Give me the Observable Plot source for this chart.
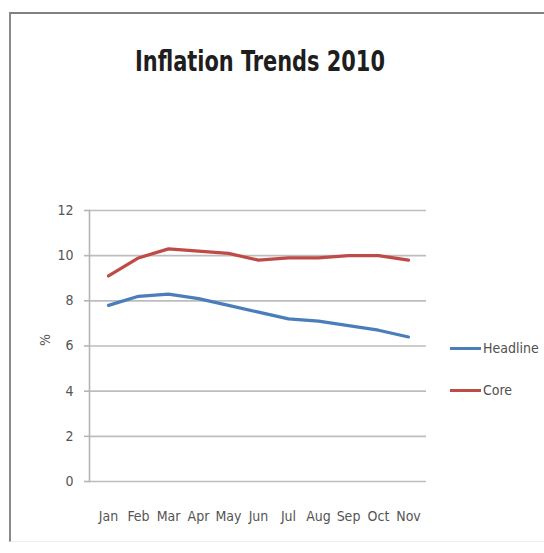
<!DOCTYPE html>
<html>
<head>
<meta charset="utf-8">
<script src="https://cdn.jsdelivr.net/npm/d3@7"></script>
<script src="https://cdn.jsdelivr.net/npm/@observablehq/plot@0.6"></script>
<style>
  html, body { margin: 0; padding: 0; background: #fff; }
  #wrap { position: relative; width: 544px; height: 553px; overflow: hidden;
          font-family: "Liberation Sans Narrow", "DejaVu Sans Condensed", "Liberation Sans", sans-serif; }
  #frame { position: absolute; left: 9px; top: 12px; width: 545px; height: 527px;
           border-top: 2px solid #808080; border-left: 2px solid #8a8a8a; border-bottom: 1px solid #eeeeee; }
  #title { position: absolute; left: 0; top: 44px; width: 520px; text-align: center;
           font-size: 28px; line-height: 36px; color: #1e1e1e; font-weight: bold;
           transform: scaleX(0.83); transform-origin: 260px 0; }
  #chart { position: absolute; left: 0; top: 0; }
  .leg { position: absolute; left: 450px; font-size: 14px; color: #505050; display: flex; align-items: center; }
  .sw { width: 31px; height: 3px; margin-right: 2px; }
</style>
</head>
<body>
<div id="wrap">
  <div id="frame"></div>
  <div id="title">Inflation Trends 2010</div>
  <div id="chart"></div>
  <div id="legend"></div>
</div>
<script>
const months = ["Jan","Feb","Mar","Apr","May","Jun","Jul","Aug","Sep","Oct","Nov"];
const headline = [7.8, 8.2, 8.3, 8.1, 7.8, 7.5, 7.2, 7.1, 6.9, 6.7, 6.4];
const core = [9.1, 9.9, 10.3, 10.2, 10.1, 9.8, 9.9, 9.9, 10.0, 10.0, 9.8];
const seriesNames = ["Headline", "Core"];
const seriesColors = ["#4a7ebb", "#be4b48"];
const yTicks = [0, 2, 4, 6, 8, 10, 12];

const data = [];
months.forEach((m, i) => {
  data.push({month: m, value: headline[i], series: "Headline"});
  data.push({month: m, value: core[i], series: "Core"});
});

const font = '"Liberation Sans Narrow", "DejaVu Sans Condensed", "Liberation Sans", sans-serif';

const chart = Plot.plot({
  width: 544,
  height: 553,
  marginLeft: 89,
  marginRight: 118,
  marginTop: 210,
  marginBottom: 72,
  style: {fontFamily: font, fontSize: "14px", color: "#555", background: "transparent", overflow: "visible"},
  x: {type: "point", domain: months, padding: 0.5, label: null},
  y: {domain: [0, 12], ticks: yTicks, label: null},
  color: {domain: seriesNames, range: seriesColors},
  marks: [
    Plot.gridY(yTicks, {stroke: "#bdbdbd", strokeOpacity: 1, strokeWidth: 1.6}),
    Plot.frame({anchor: "left", stroke: "#b5b5b5", strokeWidth: 1.6}),
    Plot.axisY(yTicks, {tickSize: 5, text: null, stroke: "#b5b5b5", strokeWidth: 1.6}),
    Plot.axisY(yTicks, {tickSize: 0, tickPadding: 16, label: null, fill: "#555", fontSize: 14}),
    Plot.axisX({tickSize: 0, tickPadding: 30, label: null, fill: "#555", fontSize: 14}),
    Plot.text(["%"], {frameAnchor: "left", dx: -44, rotate: -90, text: d => d, fill: "#555", fontSize: 14}),
    Plot.line(data, {x: "month", y: "value", stroke: "series", z: "series", strokeWidth: 3.2, curve: "linear"})
  ]
});
document.getElementById("chart").appendChild(chart);

const legend = document.getElementById("legend");
const legTops = [340, 382];
seriesNames.forEach((name, i) => {
  const row = document.createElement("div");
  row.className = "leg";
  row.style.top = legTops[i] + "px";
  row.innerHTML = `<span class="sw" style="background:${seriesColors[i]}"></span><span>${name}</span>`;
  legend.appendChild(row);
});
</script>
</body>
</html>
